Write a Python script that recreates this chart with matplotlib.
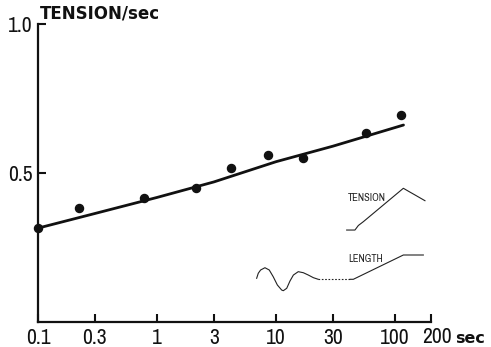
import matplotlib
matplotlib.use("Agg")
import matplotlib.pyplot as plt
from matplotlib.transforms import offset_copy

NARROW = ['Archivo Narrow', 'Liberation Sans Narrow', 'DejaVu Sans']
BOLD = ['DejaVu Sans']
plt.rcParams['font.family'] = NARROW

# measured data (tension/sec vs. time in sec)
t_points = [0.1, 0.22, 0.78, 2.12, 4.2, 8.6, 16.8, 57.0, 113.0]
v_points = [0.314, 0.383, 0.417, 0.451, 0.517, 0.562, 0.549, 0.635, 0.696]

# fitted curve nodes
t_fit = [0.1, 0.3, 1.0, 3.0, 10.0, 30.0, 117.5]
v_fit = [0.315, 0.364, 0.418, 0.470, 0.538, 0.590, 0.661]

x_ticks = [0.1, 0.3, 1, 3, 10, 30, 100, 200]
x_ticklabels = ['0.1', '0.3', '1', '3', '10', '30', '100', '']
y_ticks = [0.5, 1.0]
y_ticklabels = ['0.5', '1.0']

# schematic inset traces (arbitrary units)
tension_t = [53.7, 58.3, 60.2, 63.0, 85.2, 88.3, 91.7, 97.2]
tension_v = [58.3, 58.3, 62.1, 65.3, 93.1, 90.4, 87.5, 82.75]

length_wave_t = [3.7, 4.6, 5.9, 8.3, 10.7, 12.9, 15.2, 17.6, 18.5, 20.4, 22.2,
                 24.1, 26.8, 29.6, 32.4, 35.2, 37.9]
length_wave_v = [18.1, 22.3, 25.0, 26.9, 25.0, 19.4, 12.5, 8.3, 7.75, 9.75, 15.8,
                 20.8, 23.6, 22.75, 20.8, 18.6, 17.25]
length_gap_t = [37.9, 55.6]
length_gap_v = [17.25, 17.25]
length_ramp_t = [55.6, 57.4, 85.2, 96.3]
length_ramp_v = [17.25, 17.25, 37.5, 37.5]

W, H = 491, 347
fig = plt.figure(figsize=(W / 100, H / 100), dpi=100)
ax = fig.add_axes([38 / W, (H - 322) / H, (431 - 38) / W, (322 - 24) / H])

ax.set_xscale('log')
ax.set_xlim(0.1, 200)
ax.set_ylim(0, 1.0)
ax.spines['top'].set_visible(False)
ax.spines['right'].set_visible(False)
for s in ('left', 'bottom'):
    ax.spines[s].set_linewidth(1.6)
    ax.spines[s].set_color('#111111')

ax.plot(t_fit, v_fit, color='#111111', lw=2.0, solid_capstyle='round', clip_on=False)
ax.plot(t_points, v_points, 'o', color='#111111', ms=5.8, clip_on=False, zorder=5)

ax.set_xticks(x_ticks)
ax.set_xticklabels(x_ticklabels)
ax.xaxis.set_minor_locator(matplotlib.ticker.NullLocator())
ax.set_yticks(y_ticks)
ax.set_yticklabels(y_ticklabels)
ax.tick_params(axis='x', direction='in', length=6, width=1.5, pad=4,
               labelsize=15.5, colors='#111111')
ax.tick_params(axis='y', direction='in', length=6, width=1.5, pad=4,
               labelsize=15.5, colors='#111111')
for lbl in ax.get_xticklabels() + ax.get_yticklabels():
    lbl.set_fontweight('semibold')

# "200sec" label at the end of the axis
base = ax.get_xaxis_transform()
ax.text(200, -0.072, '200', transform=offset_copy(base, fig=fig, x=-9 * 0.72, units='points'),
        fontsize=15.5, fontweight='semibold', ha='left', va='baseline', color='#111111')
ax.text(1.0 + (455 - 431) / 393, -0.072, 'sec', transform=ax.transAxes, fontsize=11.5,
        fontweight='bold', family=BOLD, ha='left', va='baseline', color='#111111')
ax.text(0.006, 1.02, 'TENSION/sec', transform=ax.transAxes, fontsize=12,
        fontweight='bold', family=BOLD, ha='left', va='baseline', color='#111111')

# inset schematic
ins = fig.add_axes([250 / W, (H - 300) / H, 180 / W, 120 / H])
ins.set_xlim(0, 100)
ins.set_ylim(0, 100)
ins.axis('off')
ins.plot(tension_t, tension_v, color='#222222', lw=0.8)
ins.plot(length_wave_t, length_wave_v, color='#222222', lw=0.8)
ins.plot(length_gap_t, length_gap_v, color='#222222', lw=0.8, ls=(0, (1.5, 1.5)))
ins.plot(length_ramp_t, length_ramp_v, color='#222222', lw=0.8)
ins.text(54.5, 85, 'TENSION', fontsize=7.5, ha='left', va='center', color='#222222')
ins.text(54.5, 34, 'LENGTH', fontsize=7.5, ha='left', va='center', color='#222222')

fig.savefig('out.png', dpi=100)
